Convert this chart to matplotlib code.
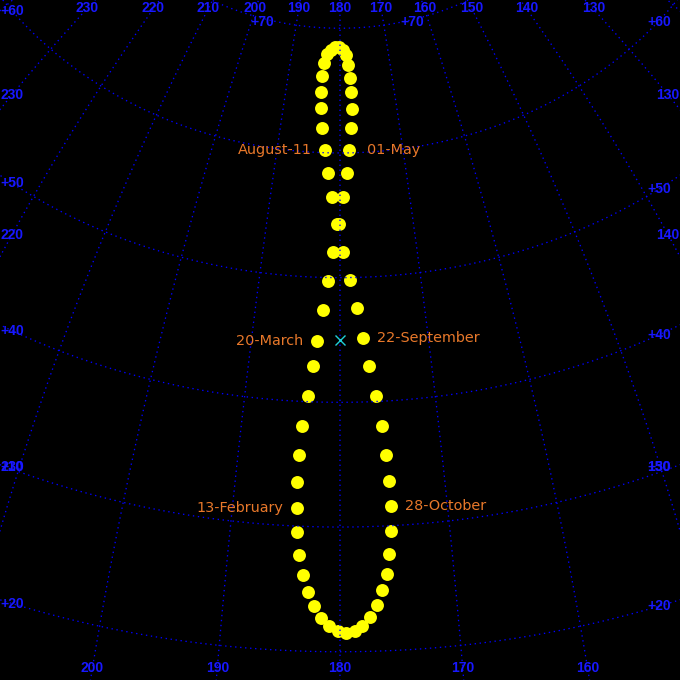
import numpy as np
import matplotlib
matplotlib.use('Agg')
import matplotlib.pyplot as plt

plt.rcParams['lines.scale_dashes'] = False

# Sun positions (azimuth label, altitude in degrees), one dot every 6 days from 13 February
SUN_AZ = [184.05,184.07,183.99,183.81,183.42,183.00,182.65,182.04,181.51,180.92,180.14,179.56,178.93,178.55,
          178.13,177.87,177.95,178.06,178.39,178.75,179.37,180.21,181.06,181.90,182.71,183.24,183.51,183.54,
          183.39,183.05,182.42,181.84,181.17,180.42,179.60,178.74,177.95,177.34,176.78,176.26,175.77,175.51,
          175.35,175.28,175.31,175.59,175.85,176.34,176.82,177.45,178.14,178.74,179.50,180.17,180.93,181.62,
          182.23,182.78,183.27,183.69,183.96]
SUN_ALT = [31.46,33.55,35.74,38.01,40.47,42.84,44.89,47.35,49.71,52.08,54.27,56.45,58.38,60.22,61.98,63.49,
           64.84,66.02,67.05,67.83,68.23,68.46,68.46,68.22,67.90,67.18,66.15,64.89,63.54,61.96,60.21,58.37,
           56.45,54.27,52.08,49.80,47.51,45.13,42.84,40.46,38.00,35.72,33.61,31.59,29.59,27.76,26.18,24.85,
           23.68,22.76,22.07,21.68,21.53,21.69,22.08,22.70,23.63,24.72,26.13,27.71,29.54]

DATE_LABELS = ['13-February', '20-March', '01-May', 'August-11', '22-September', '28-October']
DATE_INDEX = [0, 6, 13, 30, 37, 43]

ALT_GRID = [10, 20, 30, 40, 50, 60, 70, 80]
AZ_GRID = list(range(90, 271, 10))

CENTER_AZ, CENTER_ALT, PX_PER_DEG, W = 180.0, 45.0, 12.47, 680.0

GRID_COLOR = '#0000ff'
LABEL_COLOR = '#1818ff'
DATE_COLOR = '#e8782a'


def project(az, alt):
    """Azimuthal equidistant view centred on (CENTER_AZ, CENTER_ALT); azimuth grows to the left."""
    a = np.radians(np.asarray(az, float) - CENTER_AZ)
    h = np.radians(np.asarray(alt, float))
    h0 = np.radians(CENTER_ALT)
    f = np.cos(h) * np.cos(a)
    l = np.cos(h) * np.sin(a)
    u = np.sin(h)
    fp = f * np.cos(h0) + u * np.sin(h0)
    up = -f * np.sin(h0) + u * np.cos(h0)
    th = np.arccos(np.clip(fp, -1, 1))
    s = np.sin(th)
    k = np.where(s > 1e-12, np.degrees(th) * PX_PER_DEG / np.where(s > 1e-12, s, 1), PX_PER_DEG * 57.29578)
    return W / 2 - k * l, W / 2 - k * up


def crossings(xs, ys, coord, value):
    arr = xs if coord == 'x' else ys
    other = ys if coord == 'x' else xs
    d = arr - value
    res = []
    for i in range(len(d) - 1):
        if d[i] == 0 or d[i] * d[i + 1] < 0:
            t = d[i] / (d[i] - d[i + 1])
            res.append(other[i] + t * (other[i + 1] - other[i]))
    return res


fig = plt.figure(figsize=(6.8, 6.8), dpi=100, facecolor='black')
ax = fig.add_axes([0, 0, 1, 1])
ax.set_facecolor('black')
ax.set_xlim(0, W)
ax.set_ylim(W, 0)
ax.axis('off')

# sun dots
sx, sy = project(SUN_AZ, SUN_ALT)
ax.plot(sx, sy, 'o', color='#ffff00', markersize=9.3, markeredgewidth=0, zorder=1)

lab_kw = dict(color=LABEL_COLOR, fontsize=10, fontweight='bold', family='Liberation Sans', zorder=5, clip_on=False)
ls = (0, (1.0, 2.6))
LEFT_CX, RIGHT_CX = 12, 668
RIGHT_ALT_CX = 659

# y of the labels that sit at the +30 circle's exit from the view
y30 = float(project([210], [30])[1][0]) - 4

# azimuth lines
for az in AZ_GRID:
    alts = np.linspace(-10, 89.8, 1500)
    xs, ys = project(np.full_like(alts, az), alts)
    ax.plot(xs, ys, color=GRID_COLOR, lw=0.95, ls=ls, zorder=2)
    for x in crossings(xs, ys, 'y', 9):
        if 6 < x < W - 6:
            ax.text(x, 8, f'{az}', ha='center', va='center', **lab_kw)
    for x in crossings(xs, ys, 'y', 668):
        if 6 < x < W - 6:
            ax.text(x, 668, f'{az}', ha='center', va='center', **lab_kw)
    for cxl in (LEFT_CX, RIGHT_CX):
        ylist = [y for y in crossings(xs, ys, 'x', cxl) if 20 < y < W - 20]
        if not ylist:
            continue
        y = ylist[0]
        p30 = project([az], [30])
        if y > float(p30[1][0]) + 10:
            # labelled where the line leaves the view at the +30 circle
            ax.text(LEFT_CX if cxl == LEFT_CX else RIGHT_ALT_CX, y30, f'{az}', ha='center', va='center', **lab_kw)
        else:
            ax.text(cxl, y, f'{az}', ha='center', va='center', **lab_kw)

# altitude circles
for alt in ALT_GRID:
    azs = np.linspace(60, 300, 3000)
    xs, ys = project(azs, np.full_like(azs, alt))
    ax.plot(xs, ys, color=GRID_COLOR, lw=0.95, ls=ls, zorder=2)
    if alt == 70:
        xl, _ = project([200], [70])
        xr, _ = project([160], [70])
        ax.text(float(xl[0]) - 3, 21.5, f'+{alt}', ha='left', va='center', **lab_kw)
        ax.text(float(xr[0]) - 3, 21.5, f'+{alt}', ha='right', va='center', **lab_kw)
        continue
    for cxl, ymin in ((LEFT_CX, 9), (RIGHT_ALT_CX, 22)):
        ylist = crossings(xs, ys, 'x', cxl)
        ylist = [y for y in ylist if -40 < y < W - 6]
        if ylist:
            y = y30 if alt == 30 else max(ylist[0], ymin)
            ax.text(cxl, y, f'+{alt}', ha='center', va='center', **lab_kw)

# centre mark
cx, cy = project([CENTER_AZ], [CENTER_ALT])
ax.plot(cx, cy, 'x', color='#20d0d8', markersize=7, markeredgewidth=1.0, zorder=4)

# date labels
for text, idx in zip(DATE_LABELS, DATE_INDEX):
    x, y = sx[idx], sy[idx]
    if x < W / 2:
        off, ha = -13, 'right'
    else:
        off, ha = (18 if text == '01-May' else 14), 'left'
    ax.annotate(text, (x, y), xytext=(off, 0), textcoords='offset pixels', ha=ha, va='center',
                color=DATE_COLOR, fontsize=10.4, family='DejaVu Sans', zorder=6)

fig.savefig('out.png', dpi=100, facecolor='black')
